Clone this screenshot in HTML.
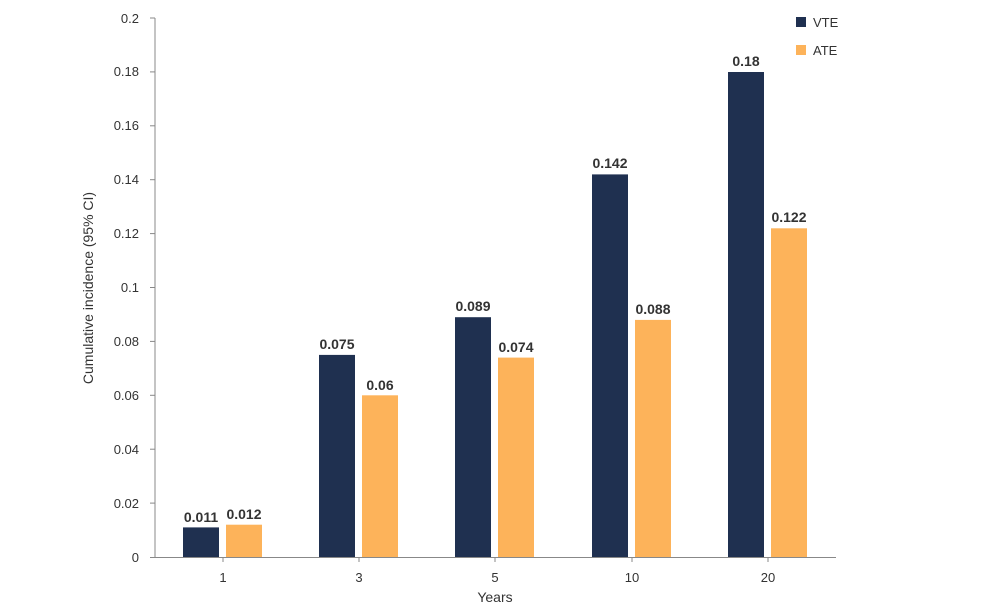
<!DOCTYPE html>
<html><head><style>
body{margin:0;background:#fff;}
svg text{font-family:"Liberation Sans",sans-serif;}
</style></head><body>
<svg width="1000" height="610" xmlns="http://www.w3.org/2000/svg">
<g font-size="13" fill="#333" text-anchor="end">
<text x="139" y="562">0</text>
<text x="139" y="508">0.02</text>
<text x="139" y="454">0.04</text>
<text x="139" y="400">0.06</text>
<text x="139" y="346">0.08</text>
<text x="139" y="292">0.1</text>
<text x="139" y="238">0.12</text>
<text x="139" y="184">0.14</text>
<text x="139" y="130">0.16</text>
<text x="139" y="76">0.18</text>
<text x="139" y="23">0.2</text>
</g>
<line x1="155" y1="18" x2="155" y2="557" stroke="#888"/>
<line x1="150" y1="557.5" x2="836" y2="557.5" stroke="#888"/>
<g stroke="#888">
<line x1="150" y1="503.1" x2="155" y2="503.1"/><line x1="150" y1="449.2" x2="155" y2="449.2"/><line x1="150" y1="395.3" x2="155" y2="395.3"/><line x1="150" y1="341.4" x2="155" y2="341.4"/><line x1="150" y1="287.5" x2="155" y2="287.5"/><line x1="150" y1="233.6" x2="155" y2="233.6"/><line x1="150" y1="179.7" x2="155" y2="179.7"/><line x1="150" y1="125.8" x2="155" y2="125.8"/><line x1="150" y1="71.9" x2="155" y2="71.9"/><line x1="150" y1="18" x2="155" y2="18"/>
<line x1="223" y1="557" x2="223" y2="562"/><line x1="359" y1="557" x2="359" y2="562"/><line x1="495" y1="557" x2="495" y2="562"/><line x1="632" y1="557" x2="632" y2="562"/><line x1="768" y1="557" x2="768" y2="562"/>
</g>
<text transform="translate(93,288) rotate(-90)" font-size="14" fill="#333" text-anchor="middle">Cumulative incidence (95% CI)</text>
<text x="495" y="602" font-size="14" fill="#333" text-anchor="middle">Years</text>
<g font-size="13" fill="#333" text-anchor="middle">
<text x="223" y="582">1</text><text x="359" y="582">3</text><text x="495" y="582">5</text><text x="632" y="582">10</text><text x="768" y="582">20</text>
</g>
<g fill="#1f3050">
<rect x="183" y="527.4" width="36" height="29.6"/>
<rect x="319" y="354.9" width="36" height="202.1"/>
<rect x="455" y="317.2" width="36" height="239.8"/>
<rect x="592" y="174.4" width="36" height="382.6"/>
<rect x="728" y="72" width="36" height="485"/>
</g>
<g fill="#fdb35a">
<rect x="226" y="524.7" width="36" height="32.3"/>
<rect x="362" y="395.3" width="36" height="161.7"/>
<rect x="498" y="357.6" width="36" height="199.4"/>
<rect x="635" y="319.9" width="36" height="237.1"/>
<rect x="771" y="228.3" width="36" height="328.7"/>
</g>
<g font-size="14" font-weight="bold" fill="#333" text-anchor="middle">
<text x="201" y="522">0.011</text><text x="244" y="519">0.012</text>
<text x="337" y="349">0.075</text><text x="380" y="390">0.06</text>
<text x="473" y="311">0.089</text><text x="516" y="352">0.074</text>
<text x="610" y="168">0.142</text><text x="653" y="314">0.088</text>
<text x="746" y="66">0.18</text><text x="789" y="222">0.122</text>
</g>
<rect x="796" y="17" width="10" height="10" fill="#1f3050"/>
<text x="813" y="27" font-size="13" fill="#333">VTE</text>
<rect x="796" y="45" width="10" height="10" fill="#fdb35a"/>
<text x="813" y="55" font-size="13" fill="#333">ATE</text>
</svg>
</body></html>
